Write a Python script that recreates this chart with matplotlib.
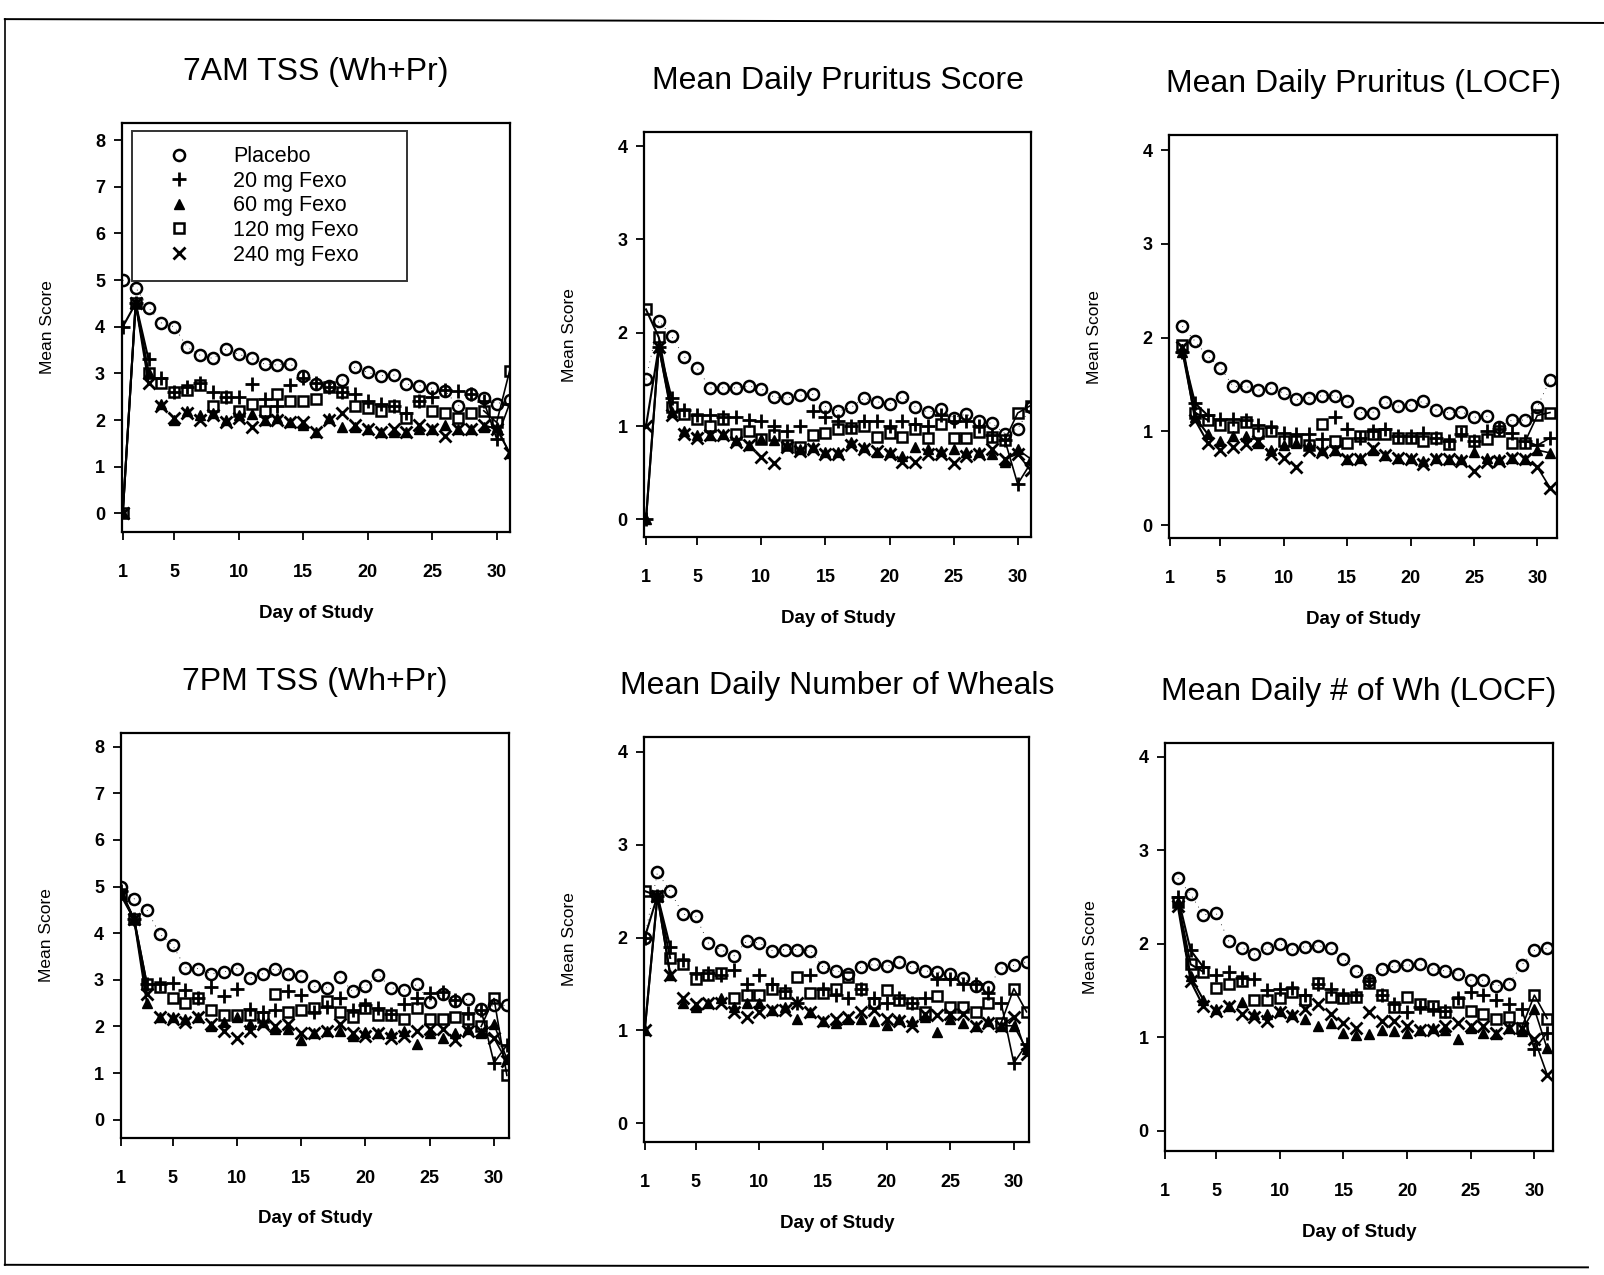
import numpy as np
import matplotlib
matplotlib.use("Agg")
import matplotlib.pyplot as plt
from matplotlib.lines import Line2D

plt.rcParams['font.family'] = ['Liberation Sans', 'DejaVu Sans']

nan = np.nan
days = np.arange(1, 32)
groups = ['Placebo', '20 mg Fexo', '60 mg Fexo', '120 mg Fexo', '240 mg Fexo']
xticks = [1, 5, 10, 15, 20, 25, 30]

# 7AM TSS (Wh+Pr)
am_placebo = [5.0, 4.84, 4.41, 4.08, 4.0, 3.56, 3.39, 3.32, 3.52, 3.41, 3.32, 3.2, 3.18, 3.21, 2.94, 2.77,
              2.74, 2.86, 3.13, 3.02, 2.95, 2.97, 2.77, 2.74, 2.68, 2.63, 2.3, 2.55, 2.47, 2.35, 2.43]
am_20 = [4.0, 4.5, 3.3, 2.9, 2.6, 2.7, 2.8, 2.6, 2.5, 2.5, 2.77, 2.45, 2.3, 2.75, 2.9, 2.8,
         2.7, 2.6, 2.55, 2.4, 2.35, 2.3, 2.15, 2.4, 2.5, 2.65, 2.63, 2.55, 2.4, 1.6, 2.35]
am_60 = [0, 4.5, 3.0, 2.35, 2.0, 2.2, 2.1, 2.15, 2.0, 2.1, 2.13, 2.0, 2.05, 1.95, 1.9, 1.75,
         2.05, 1.85, 1.85, 1.8, 1.75, 1.75, 1.75, 1.8, 1.8, 1.9, 1.8, 1.8, 1.85, 1.85, 1.3]
am_120 = [0, 4.5, 3.0, 2.8, 2.6, 2.65, 2.75, 2.3, 2.5, 2.2, 2.35, 2.2, 2.55, 2.4, 2.4, 2.45,
          2.7, 2.6, 2.3, 2.25, 2.2, 2.3, 2.05, 2.4, 2.2, 2.15, 2.05, 2.15, 2.2, 1.95, 3.05]
am_240 = [0, 4.5, 2.8, 2.3, 2.05, 2.15, 2.0, 2.1, 1.95, 2.05, 1.85, 2.0, 2.0, 1.95, 1.95, 1.75,
          2.0, 2.15, 1.9, 1.8, 1.75, 1.8, 1.75, 1.9, 1.8, 1.65, 1.8, 1.8, 1.9, 1.8, 1.3]

# Mean Daily Pruritus Score
pr_placebo = [1.5, 2.13, 1.96, 1.74, 1.62, 1.41, 1.41, 1.41, 1.43, 1.40, 1.31, 1.30, 1.33, 1.34, 1.21, 1.16,
              1.2, 1.30, 1.26, 1.24, 1.31, 1.21, 1.15, 1.18, 1.09, 1.13, 1.05, 1.03, 0.92, 0.97, 1.2]
pr_20 = [0, 1.85, 1.3, 1.17, 1.12, 1.12, 1.1, 1.1, 1.07, 1.05, 1.0, 0.95, 1.0, 1.16, 1.1, 1.05,
         1.0, 1.06, 1.05, 1.0, 1.05, 1.02, 1.0, 1.12, 1.05, 1.05, 1.0, 0.9, 0.85, 0.38, 0.6]
pr_60 = [0, 1.85, 1.15, 0.95, 0.9, 0.9, 0.92, 0.85, 0.8, 0.86, 0.85, 0.8, 0.75, 0.78, 0.72, 0.72,
         0.83, 0.78, 0.72, 0.72, 0.68, 0.78, 0.75, 0.73, 0.75, 0.72, 0.72, 0.7, 0.62, 0.75, 0.65]
pr_120 = [2.25, 1.95, 1.2, 1.13, 1.08, 1.0, 1.08, 0.92, 0.95, 0.86, 0.9, 0.8, 0.78, 0.9, 0.93, 0.97,
          0.98, 1.0, 0.88, 0.93, 0.88, 0.97, 0.87, 1.02, 0.87, 0.87, 0.94, 0.88, 0.85, 1.14, 1.22]
pr_240 = [1.0, 1.85, 1.12, 0.92, 0.87, 0.9, 0.9, 0.83, 0.8, 0.67, 0.6, 0.78, 0.73, 0.76, 0.7, 0.7,
          0.8, 0.76, 0.73, 0.7, 0.62, 0.62, 0.7, 0.7, 0.6, 0.68, 0.7, 0.75, 0.65, 0.7, 0.53]

# Mean Daily Pruritus (LOCF)
prl_placebo = [nan, 2.12, 1.96, 1.80, 1.68, 1.48, 1.48, 1.44, 1.46, 1.41, 1.34, 1.36, 1.38, 1.38, 1.32, 1.2,
               1.2, 1.31, 1.27, 1.28, 1.32, 1.23, 1.2, 1.21, 1.15, 1.16, 1.05, 1.12, 1.12, 1.26, 1.55]
prl_20 = [nan, 1.85, 1.3, 1.17, 1.13, 1.13, 1.12, 1.07, 1.05, 0.98, 0.97, 0.97, 0.92, 1.15, 1.02, 0.93,
          1.0, 1.02, 0.95, 0.95, 0.98, 0.93, 0.9, 0.97, 0.9, 1.0, 1.02, 0.98, 0.9, 0.85, 0.93]
prl_60 = [nan, 1.85, 1.15, 0.97, 0.9, 0.95, 0.95, 0.88, 0.8, 0.85, 0.88, 0.85, 0.8, 0.8, 0.7, 0.72,
          0.8, 0.75, 0.72, 0.72, 0.68, 0.72, 0.7, 0.7, 0.78, 0.72, 0.7, 0.72, 0.7, 0.8, 0.77]
prl_120 = [nan, 1.92, 1.2, 1.12, 1.07, 1.05, 1.1, 0.98, 1.0, 0.9, 0.9, 0.85, 1.08, 0.9, 0.88, 0.95,
           0.97, 0.97, 0.93, 0.93, 0.9, 0.93, 0.87, 1.0, 0.9, 0.92, 1.0, 0.88, 0.88, 1.17, 1.2]
prl_240 = [nan, 1.9, 1.12, 0.88, 0.8, 0.83, 0.86, 0.9, 0.76, 0.72, 0.62, 0.8, 0.78, 0.8, 0.7, 0.7,
           0.82, 0.75, 0.72, 0.7, 0.65, 0.7, 0.7, 0.68, 0.58, 0.67, 0.68, 0.72, 0.7, 0.62, 0.4]

# 7PM TSS (Wh+Pr)
pm_placebo = [5.0, 4.74, 4.5, 3.98, 3.74, 3.26, 3.24, 3.13, 3.17, 3.24, 3.04, 3.13, 3.24, 3.13, 3.08, 2.86,
              2.83, 3.06, 2.75, 2.86, 3.1, 2.83, 2.78, 2.9, 2.53, 2.7, 2.55, 2.58, 2.38, 2.45, 2.45]
pm_20 = [4.9, 4.3, 2.9, 2.9, 2.93, 2.78, 2.62, 2.85, 2.65, 2.8, 2.38, 2.3, 2.36, 2.76, 2.67, 2.31,
         2.42, 2.62, 2.35, 2.45, 2.4, 2.27, 2.49, 2.62, 2.72, 2.74, 2.56, 2.28, 2.35, 1.22, 1.6]
pm_60 = [4.85, 4.3, 2.5, 2.2, 2.2, 2.15, 2.2, 2.0, 2.1, 2.2, 2.05, 2.1, 1.95, 1.95, 1.7, 1.85,
         1.9, 1.9, 1.8, 1.88, 1.85, 1.85, 1.9, 1.63, 1.85, 1.75, 1.85, 1.95, 1.85, 2.05, 1.3]
pm_120 = [4.85, 4.3, 2.9, 2.85, 2.6, 2.5, 2.6, 2.35, 2.25, 2.25, 2.25, 2.2, 2.7, 2.3, 2.35, 2.4,
          2.55, 2.3, 2.2, 2.4, 2.25, 2.25, 2.15, 2.4, 2.15, 2.15, 2.2, 2.15, 2.0, 2.6, 0.95]
pm_240 = [4.8, 4.3, 2.7, 2.2, 2.15, 2.1, 2.2, 2.05, 1.9, 1.75, 1.9, 2.05, 2.0, 2.05, 1.85, 1.85,
          1.9, 2.05, 1.85, 1.8, 1.85, 1.75, 1.8, 1.9, 1.95, 1.95, 1.7, 1.9, 1.9, 1.75, 1.25]

# Mean Daily Number of Wheals
wh_placebo = [2.0, 2.7, 2.5, 2.25, 2.23, 1.94, 1.87, 1.8, 1.96, 1.94, 1.86, 1.87, 1.87, 1.86, 1.68, 1.64,
              1.61, 1.68, 1.71, 1.69, 1.74, 1.68, 1.64, 1.63, 1.61, 1.56, 1.48, 1.47, 1.67, 1.7, 1.74]
wh_20 = [2.0, 2.45, 1.9, 1.76, 1.62, 1.62, 1.6, 1.65, 1.5, 1.6, 1.5, 1.42, 1.3, 1.6, 1.45, 1.38,
         1.35, 1.45, 1.35, 1.3, 1.35, 1.3, 1.35, 1.55, 1.55, 1.5, 1.5, 1.4, 1.3, 0.65, 0.85]
wh_60 = [1.0, 2.45, 1.6, 1.3, 1.25, 1.3, 1.35, 1.25, 1.3, 1.3, 1.22, 1.25, 1.12, 1.2, 1.1, 1.08,
         1.12, 1.12, 1.1, 1.06, 1.12, 1.1, 1.15, 0.98, 1.12, 1.08, 1.05, 1.1, 1.05, 1.05, 0.8]
wh_120 = [2.5, 2.45, 1.78, 1.72, 1.55, 1.6, 1.62, 1.35, 1.38, 1.38, 1.45, 1.4, 1.57, 1.4, 1.4, 1.45,
          1.58, 1.45, 1.3, 1.43, 1.33, 1.3, 1.2, 1.37, 1.25, 1.25, 1.2, 1.3, 1.08, 1.45, 1.2]
wh_240 = [1.0, 2.45, 1.6, 1.35, 1.28, 1.3, 1.3, 1.2, 1.15, 1.2, 1.22, 1.22, 1.3, 1.2, 1.1, 1.12,
          1.15, 1.2, 1.22, 1.12, 1.1, 1.05, 1.18, 1.17, 1.18, 1.18, 1.05, 1.08, 1.05, 1.15, 0.75]

# Mean Daily # of Wh (LOCF)
whl_placebo = [nan, 2.7, 2.53, 2.31, 2.33, 2.03, 1.96, 1.89, 1.95, 2.0, 1.94, 1.97, 1.98, 1.95, 1.84, 1.71,
               1.61, 1.73, 1.76, 1.77, 1.78, 1.73, 1.71, 1.68, 1.61, 1.61, 1.55, 1.57, 1.77, 1.93, 1.95]
whl_20 = [nan, 2.5, 1.93, 1.75, 1.67, 1.7, 1.63, 1.62, 1.5, 1.52, 1.53, 1.45, 1.57, 1.52, 1.45, 1.45,
          1.6, 1.45, 1.35, 1.27, 1.32, 1.3, 1.28, 1.42, 1.48, 1.45, 1.4, 1.35, 1.3, 0.87, 1.05]
whl_60 = [nan, 2.45, 1.65, 1.4, 1.3, 1.33, 1.38, 1.25, 1.25, 1.28, 1.25, 1.2, 1.12, 1.15, 1.05, 1.02,
          1.03, 1.08, 1.07, 1.05, 1.08, 1.1, 1.08, 0.98, 1.1, 1.05, 1.03, 1.1, 1.07, 1.3, 0.88]
whl_120 = [nan, 2.45, 1.78, 1.7, 1.53, 1.57, 1.6, 1.4, 1.4, 1.42, 1.48, 1.4, 1.58, 1.43, 1.42, 1.43,
           1.58, 1.45, 1.32, 1.43, 1.35, 1.33, 1.27, 1.38, 1.28, 1.25, 1.2, 1.22, 1.1, 1.45, 1.2]
whl_240 = [nan, 2.4, 1.6, 1.33, 1.28, 1.33, 1.25, 1.22, 1.17, 1.27, 1.23, 1.3, 1.35, 1.25, 1.15, 1.1,
           1.27, 1.17, 1.17, 1.12, 1.08, 1.08, 1.12, 1.15, 1.12, 1.12, 1.05, 1.1, 1.1, 0.98, 0.6]

markers = [
    dict(marker='o', markerfacecolor='none', markersize=8, markeredgewidth=1.8),
    dict(marker='+', markersize=9.5, markeredgewidth=2.0),
    dict(marker='^', markerfacecolor='black', markersize=6.5, markeredgewidth=1),
    dict(marker='s', markerfacecolor='none', markersize=7.5, markeredgewidth=1.8),
    dict(marker='x', markersize=8, markeredgewidth=2.0),
]

# title, series, box (left, top, right, bottom in px of the page), xlim, ylim, yticks
panels = [
    ("7AM TSS (Wh+Pr)", [am_placebo, am_20, am_60, am_120, am_240],
     [119, 120, 499, 520], (0.92, 31.07), (-0.40, 8.37), range(0, 9)),
    ("Mean Daily Pruritus Score", [pr_placebo, pr_20, pr_60, pr_120, pr_240],
     [630, 129, 1008, 525], (0.88, 31.05), (-0.19, 4.15), range(0, 5)),
    ("Mean Daily Pruritus (LOCF)", [prl_placebo, prl_20, prl_60, prl_120, prl_240],
     [1143, 132, 1522, 526], (0.96, 31.55), (-0.14, 4.16), range(0, 5)),
    ("7PM TSS (Wh+Pr)", [pm_placebo, pm_20, pm_60, pm_120, pm_240],
     [118, 716, 498, 1112], (0.96, 31.2), (-0.39, 8.3), range(0, 9)),
    ("Mean Daily Number of Wheals", [wh_placebo, wh_20, wh_60, wh_120, wh_240],
     [630, 720, 1006, 1116], (0.98, 31.2), (-0.20, 4.16), range(0, 5)),
    ("Mean Daily # of Wh (LOCF)", [whl_placebo, whl_20, whl_60, whl_120, whl_240],
     [1139, 726, 1518, 1125], (1.0, 31.45), (-0.22, 4.15), range(0, 5)),
]

W, H = 1568.0, 1246.0
fig = plt.figure(figsize=(16.04, 12.75), dpi=100)

for title, series, box, xl, yl, yt in panels:
    l, t, r, b = box
    ax = fig.add_axes([l / W, 1 - b / H, (r - l) / W, (b - t) / H])
    for i, vals in enumerate(series):
        y = np.array(vals, dtype=float)
        ok = ~np.isnan(y)
        dd = days[ok]
        yy = y[ok]
        ax.plot(dd, yy, linestyle='none', color='black', **markers[i])
        if i == 0:
            ax.plot(dd, yy, color='black', lw=0.6, ls=(0, (1, 6)))
        else:
            ax.plot(dd[:3], yy[:3], color='black', lw=1.5)
            ax.plot(dd[-3:], yy[-3:], color='black', lw=1.2)
    ax.set_xlim(*xl)
    ax.set_ylim(*yl)
    ax.set_xticks(xticks)
    ax.set_yticks(list(yt))
    ax.tick_params(direction='out', length=6, width=1.3, labelsize=13)
    ax.tick_params(axis='x', pad=17)
    ax.tick_params(axis='y', pad=6)
    for lab in ax.get_xticklabels() + ax.get_yticklabels():
        lab.set_fontweight('bold')
    for s in ax.spines.values():
        s.set_linewidth(1.6)
    ax.set_title(title, fontsize=23, pad=31)
    ax.set_xlabel("Day of Study", fontsize=13.5, fontweight='bold', labelpad=17)
    ax.set_ylabel("Mean Score", fontsize=12.5, labelpad=29)

    if title.startswith("7AM"):
        handles = [Line2D([], [], linestyle='none', color='black', **m) for m in markers]
        leg = ax.legend(handles, groups, loc='upper left', bbox_to_anchor=(0.026, 0.98, 0.707, 0.0),
                        mode='expand', fontsize=15.5, frameon=True, fancybox=False, edgecolor='black',
                        handletextpad=1.0, labelspacing=0.17, borderpad=0.7, handlelength=3.0,
                        borderaxespad=0, numpoints=1)
        leg.get_frame().set_linewidth(1.4)
        leg.get_frame().set_boxstyle('square', pad=0)

# outer border of the scanned page
fig.add_artist(Line2D([0.003, 0.003], [0.008, 0.985], transform=fig.transFigure, color='black', lw=1.2))
fig.add_artist(Line2D([0.003, 1.0], [0.985, 0.982], transform=fig.transFigure, color='black', lw=1.4))
fig.add_artist(Line2D([0.003, 0.99], [0.008, 0.006], transform=fig.transFigure, color='black', lw=1.4))

fig.savefig("out.png", dpi=100)
